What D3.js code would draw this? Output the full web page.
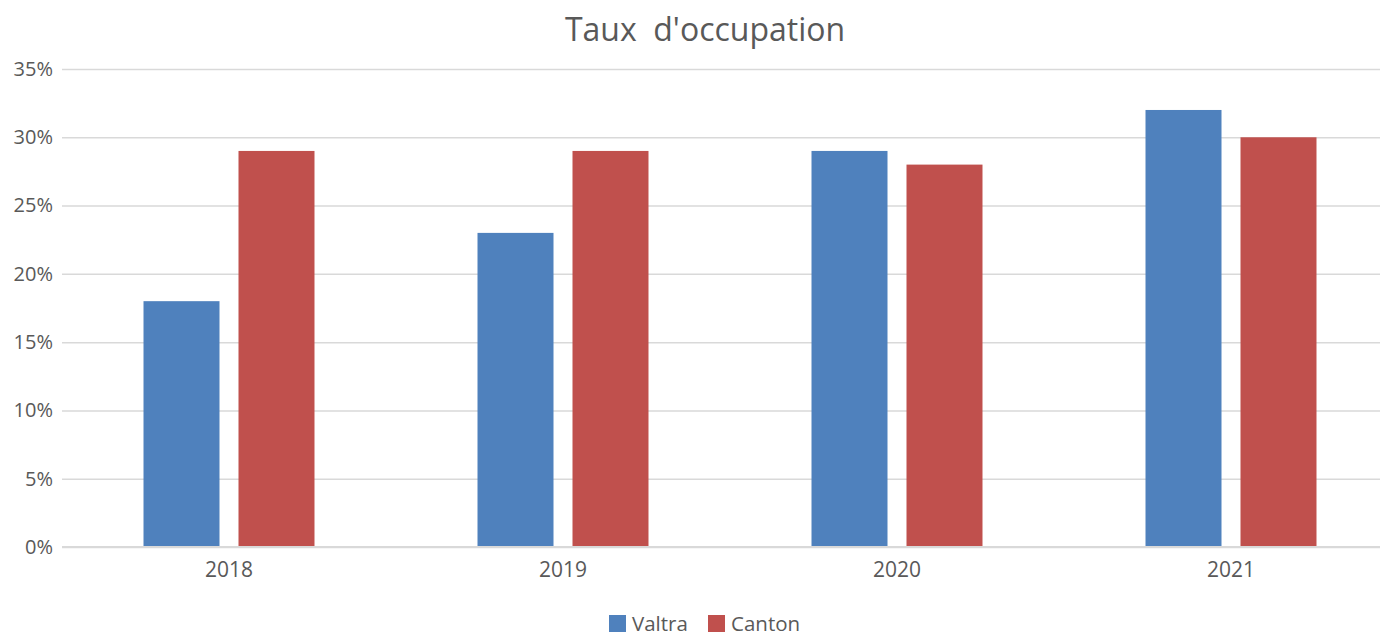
<!DOCTYPE html>
<html>
<head>
<meta charset="utf-8">
<script src="https://cdn.jsdelivr.net/npm/d3@7"></script>
<style>
  body { margin: 0; background: #fff; }
  svg { display: block; font-family: "Open Sans", "Noto Sans", sans-serif; }
</style>
</head>
<body>
<div id="chart"></div>
<script>
const years = ['2018', '2019', '2020', '2021'];
const seriesNames = ['Valtra', 'Canton'];
const valtra = [0.18, 0.23, 0.29, 0.32];
const canton = [0.29, 0.29, 0.28, 0.30];
const yTicks = [0, 0.05, 0.10, 0.15, 0.20, 0.25, 0.30, 0.35];
const colors = ['#4f81bd', '#c0504d'];

const fontFamily = '"Open Sans", "Noto Sans", sans-serif';
const width = 1380, height = 636;
const margin = { top: 69, left: 62, right: -18, bottom: 89 };

const svg = d3.select('#chart').append('svg')
    .attr('width', width)
    .attr('height', height);

const x0 = d3.scaleBand()
    .domain(years)
    .range([margin.left, width - margin.right])
    .padding(0);

const x1 = d3.scaleBand()
    .domain(seriesNames)
    .range([0, x0.bandwidth()])
    .paddingInner(0.2)
    .paddingOuter(0.858);

const y = d3.scaleLinear()
    .domain([0, 0.35])
    .range([height - margin.bottom, margin.top]);

// gridlines
const grid = svg.append('g')
    .call(d3.axisLeft(y).tickValues(yTicks).tickSize(-(width - margin.left - margin.right)).tickFormat(''))
    .attr('transform', `translate(${margin.left},0)`);
grid.select('.domain').remove();
grid.selectAll('line').attr('stroke', '#d9d9d9').attr('stroke-width', 1.5);

// y labels
const gy = svg.append('g')
    .attr('transform', `translate(${margin.left},0)`)
    .call(d3.axisLeft(y).tickValues(yTicks).tickSize(0).tickPadding(9).tickFormat(d3.format('.0%')))
    .attr('font-family', fontFamily);
gy.select('.domain').remove();
gy.selectAll('text')
    .attr('fill', '#595959')
    .style('font-size', '20px');

// bars
const rows = years.map((yr, i) => ({ year: yr, values: [valtra[i], canton[i]] }));
svg.append('g').selectAll('g')
    .data(rows)
    .join('g')
    .attr('transform', d => `translate(${x0(d.year)},0)`)
    .selectAll('rect')
    .data(d => d.values.map((v, j) => ({ key: seriesNames[j], value: v, j: j })))
    .join('rect')
    .attr('x', d => x1(d.key))
    .attr('width', x1.bandwidth())
    .attr('y', d => y(d.value))
    .attr('height', d => y(0) - y(d.value))
    .attr('fill', d => colors[d.j]);

// baseline
svg.append('line')
    .attr('x1', margin.left).attr('x2', width)
    .attr('y1', y(0)).attr('y2', y(0))
    .attr('stroke', '#d9d9d9').attr('stroke-width', 2);

// x labels
const gx = svg.append('g')
    .attr('transform', `translate(0,${y(0)})`)
    .call(d3.axisBottom(x0).tickSize(0).tickPadding(15))
    .attr('font-family', fontFamily);
gx.select('.domain').remove();
gx.selectAll('text')
    .attr('fill', '#595959')
    .style('font-size', '21px');

// title
svg.append('text')
    .attr('x', 705)
    .attr('y', 41)
    .attr('text-anchor', 'middle')
    .attr('fill', '#595959')
    .style('font-size', '32px')
    .text("Taux\u00a0 d'occupation");

// legend
const legend = svg.append('g').attr('transform', 'translate(609,615)');
const legendX = [0, 99];
seriesNames.forEach((name, i) => {
  const g = legend.append('g').attr('transform', `translate(${legendX[i]},0)`);
  g.append('rect').attr('width', 17).attr('height', 17).attr('fill', colors[i]);
  g.append('text')
    .attr('x', 23).attr('y', 16)
    .attr('fill', '#595959')
    .style('font-size', '20.5px')
    .text(name);
});
</script>
</body>
</html>
